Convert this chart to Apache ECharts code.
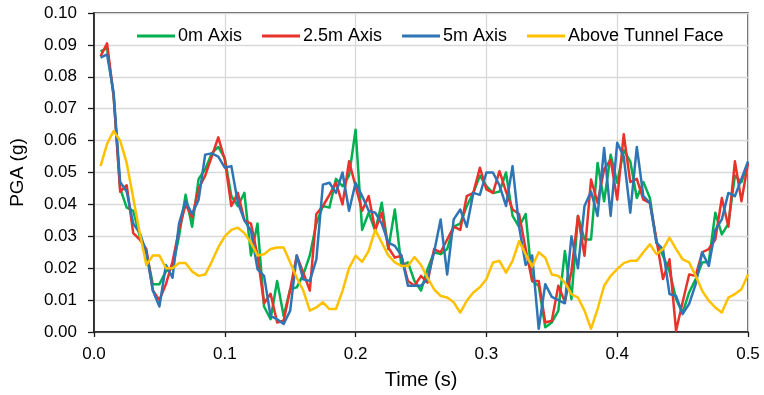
<!DOCTYPE html>
<html>
<head>
<meta charset="utf-8">
<script src="https://cdn.jsdelivr.net/npm/echarts@6/dist/echarts.min.js"></script>
<style>
  html, body { margin: 0; padding: 0; background: #fff; }
  #chart { width: 764px; height: 395px; }
</style>
</head>
<body>
<div id="chart"></div>
<script>
// Sampling interval of the recorded acceleration histories (s)
const SAMPLE_DT = 0.005;
const times = Array.from({ length: 100 }, (_, i) => +((i + 1) * SAMPLE_DT).toFixed(3));

const seriesNames = ['0m Axis', '2.5m Axis', '5m Axis', 'Above Tunnel Face'];

// PGA (g) at each sample time
const pga0m = [
  0.088, 0.089, 0.074, 0.045, 0.039, 0.038, 0.030, 0.025, 0.015, 0.015,
  0.019, 0.020, 0.030, 0.043, 0.033, 0.048, 0.051, 0.056, 0.058, 0.0545,
  0.0426, 0.0395, 0.0436, 0.024, 0.034, 0.008, 0.004, 0.016, 0.005, 0.0134,
  0.014, 0.018, 0.024, 0.034, 0.0395, 0.039, 0.048, 0.0457, 0.049, 0.0634,
  0.032, 0.0374, 0.0317, 0.0405, 0.026, 0.0384, 0.0207, 0.0218, 0.016, 0.013,
  0.0197, 0.025, 0.0244, 0.026, 0.033, 0.034, 0.0395, 0.0436, 0.049, 0.0457,
  0.0436, 0.044, 0.050, 0.0364, 0.033, 0.037, 0.016, 0.0145, 0.0015, 0.003,
  0.0067, 0.0254, 0.0103, 0.0364, 0.029, 0.029, 0.053, 0.041, 0.0556, 0.0468,
  0.057, 0.0535, 0.042, 0.047, 0.042, 0.028, 0.0239, 0.019, 0.0103, 0.006,
  0.0124, 0.0166, 0.0218, 0.022, 0.0374, 0.0306, 0.034, 0.049, 0.047, 0.053
];

const pga25m = [
  0.0864, 0.0905, 0.074, 0.044, 0.046, 0.031, 0.029, 0.026, 0.013, 0.010,
  0.015, 0.022, 0.032, 0.040, 0.036, 0.045, 0.049, 0.055, 0.061, 0.054,
  0.0395, 0.0436, 0.035, 0.034, 0.024, 0.009, 0.012, 0.003, 0.0035, 0.0134,
  0.024, 0.0186, 0.013, 0.037, 0.0395, 0.043, 0.0468, 0.040, 0.0535, 0.0457,
  0.038, 0.0426, 0.032, 0.0374, 0.0265, 0.0233, 0.0239, 0.016, 0.0145, 0.0176,
  0.0155, 0.026, 0.025, 0.029, 0.033, 0.032, 0.0426, 0.0436, 0.0515, 0.0447,
  0.0436, 0.0504, 0.044, 0.0384, 0.037, 0.026, 0.016, 0.016, 0.003, 0.0035,
  0.0145, 0.0095, 0.019, 0.0364, 0.0239, 0.0478, 0.0405, 0.051, 0.054, 0.0415,
  0.062, 0.047, 0.048, 0.0415, 0.0405, 0.029, 0.0166, 0.0228, 0.0004, 0.0093,
  0.018, 0.0176, 0.025, 0.026, 0.029, 0.042, 0.033, 0.0535, 0.041, 0.053
];

const pga5m = [
  0.086, 0.087, 0.075, 0.047, 0.044, 0.034, 0.031, 0.025, 0.013, 0.008,
  0.021, 0.017, 0.034, 0.041, 0.037, 0.0415, 0.0556, 0.056, 0.055, 0.0515,
  0.052, 0.0405, 0.035, 0.0317, 0.0197, 0.0176, 0.005, 0.004, 0.0025, 0.0067,
  0.024, 0.0165, 0.016, 0.0228, 0.0462, 0.0468, 0.0436, 0.050, 0.038, 0.0468,
  0.0426, 0.038, 0.0374, 0.034, 0.028, 0.027, 0.024, 0.0145, 0.0145, 0.0145,
  0.0166, 0.025, 0.0353, 0.018, 0.0353, 0.0384, 0.033, 0.0436, 0.043, 0.050,
  0.050, 0.046, 0.0395, 0.052, 0.033, 0.021, 0.024, 0.001, 0.015, 0.011,
  0.010, 0.009, 0.030, 0.020, 0.0395, 0.044, 0.0364, 0.0577, 0.0364, 0.0593,
  0.055, 0.0374, 0.058, 0.0426, 0.0405, 0.028, 0.026, 0.0119, 0.0113, 0.0056,
  0.0088, 0.015, 0.025, 0.0207, 0.032, 0.0353, 0.0436, 0.0426, 0.048, 0.0535
];

const pgaFace = [
  0.052, 0.059, 0.063, 0.060, 0.053, 0.042, 0.031, 0.021, 0.024, 0.024,
  0.020, 0.020, 0.0216, 0.0216, 0.019, 0.0176, 0.018, 0.022, 0.0265, 0.030,
  0.032, 0.0327, 0.031, 0.028, 0.024, 0.0244, 0.026, 0.0265, 0.0265, 0.0218,
  0.017, 0.013, 0.0067, 0.0077, 0.0093, 0.0072, 0.0072, 0.0129, 0.020, 0.0239,
  0.022, 0.0254, 0.032, 0.028, 0.024, 0.0218, 0.0207, 0.0207, 0.0235, 0.021,
  0.017, 0.0134, 0.0113, 0.0108, 0.0093, 0.0061, 0.0098, 0.0124, 0.014, 0.0166,
  0.0218, 0.0223, 0.0186, 0.0223, 0.0285, 0.0244, 0.0205, 0.025, 0.0233, 0.018,
  0.0176, 0.0155, 0.0119, 0.0108, 0.0067, 0.001, 0.0072, 0.0145, 0.0176, 0.0197,
  0.0216, 0.0223, 0.0223, 0.025, 0.0275, 0.0244, 0.026, 0.0296, 0.026, 0.0228,
  0.0218, 0.0176, 0.0129, 0.0098, 0.0077, 0.0061, 0.0108, 0.0119, 0.0134, 0.018
];

const xTicks = [0, 0.1, 0.2, 0.3, 0.4, 0.5];
const yTicks = [0, 0.01, 0.02, 0.03, 0.04, 0.05, 0.06, 0.07, 0.08, 0.09, 0.10];

const colors = ['#00b050', '#e8322a', '#2e75b6', '#ffc000'];
const values = [pga0m, pga25m, pga5m, pgaFace];

const FONT = '"Liberation Sans", Arial, sans-serif';

const chart = echarts.init(document.getElementById('chart'), null, { renderer: 'canvas' });

chart.setOption({
  animation: false,
  backgroundColor: '#ffffff',
  textStyle: { fontFamily: FONT, color: '#000' },
  grid: {
    left: 91, right: 16, top: 13, bottom: 62,
    show: true, borderColor: '#1a1a1a', borderWidth: 1.3,
    containLabel: false
  },
  legend: {
    data: seriesNames,
    top: 27,
    left: 137,
    padding: 0,
    itemGap: 20,
    itemWidth: 38,
    itemHeight: 3,
    icon: 'rect',
    textStyle: { fontFamily: FONT, fontSize: 18, color: '#000', padding: [0, 0, 0, -2] }
  },
  xAxis: {
    type: 'value',
    min: xTicks[0],
    max: xTicks[xTicks.length - 1],
    interval: xTicks[1] - xTicks[0],
    name: 'Time (s)',
    nameLocation: 'middle',
    nameGap: 38,
    nameTextStyle: { fontFamily: FONT, fontSize: 20, color: '#000' },
    axisLine: { show: true, onZero: false, lineStyle: { color: '#1a1a1a', width: 1.6 } },
    axisTick: { show: true, inside: false, length: 5, lineStyle: { color: '#1a1a1a', width: 1.3 } },
    axisLabel: {
      margin: 14,
      fontFamily: FONT, fontSize: 17, color: '#000',
      formatter: v => v.toFixed(1)
    },
    splitLine: { show: true, lineStyle: { color: '#d9d9d9', width: 1.3 } }
  },
  yAxis: {
    type: 'value',
    min: yTicks[0],
    max: yTicks[yTicks.length - 1],
    interval: 0.01,
    name: 'PGA (g)',
    nameLocation: 'middle',
    nameGap: 67,
    nameRotate: 90,
    nameTextStyle: { fontFamily: FONT, fontSize: 19, color: '#000' },
    axisLine: { show: true, lineStyle: { color: '#1a1a1a', width: 1.6 } },
    axisTick: { show: true, inside: false, length: 6, lineStyle: { color: '#1a1a1a', width: 1.3 } },
    axisLabel: {
      margin: 17,
      fontFamily: FONT, fontSize: 17, color: '#000',
      formatter: v => v.toFixed(2)
    },
    splitLine: { show: true, lineStyle: { color: '#d9d9d9', width: 1.3 } }
  },
  series: seriesNames.map((name, k) => ({
    name,
    type: 'line',
    data: times.map((t, i) => [t, values[k][i]]),
    symbol: 'none',
    showSymbol: false,
    smooth: false,
    color: colors[k],
    lineStyle: { color: colors[k], width: 2.5, join: 'round' },
    z: 2 + k
  }))
});
</script>
</body>
</html>
